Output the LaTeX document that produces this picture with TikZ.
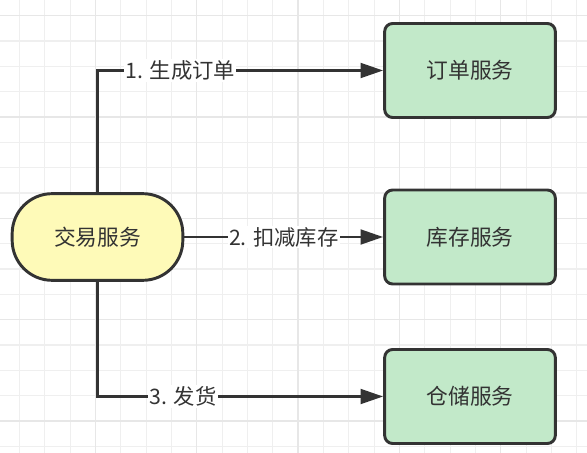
\documentclass[tikz,border=0pt]{standalone}
\usepackage{fontspec}
\setmainfont{Noto Sans CJK SC}
\usetikzlibrary{arrows.meta}
\definecolor{gridminor}{HTML}{EFEFEF}
\definecolor{gridmajor}{HTML}{E7E7E7}
\definecolor{strokec}{HTML}{333333}
\definecolor{textc}{HTML}{333333}
\definecolor{greenf}{HTML}{C2E9C9}
\definecolor{yellowf}{HTML}{FEFAB8}
\tikzset{
  svcbox/.style={draw=strokec, line width=2.2pt, fill=greenf, rounded corners=6pt,
    minimum width=128pt, minimum height=70.5pt, text=textc, font=\fontsize{16.3}{19}\selectfont, inner sep=0pt},
  tradebox/.style={draw=strokec, line width=2.2pt, fill=yellowf, rounded corners=30pt,
    minimum width=128pt, minimum height=65pt, text=textc, font=\fontsize{16.3}{19}\selectfont, inner sep=0pt},
  flow/.style={draw=strokec, line width=2.2pt, -{Triangle[length=17pt,width=11pt]}},
  lbl/.style={fill=white, text=textc, font=\fontsize{16}{19}\selectfont, inner sep=1pt}
}
\begin{document}
\begin{tikzpicture}[x=0.75pt,y=-0.75pt]
\useasboundingbox (0,0) rectangle (587,453);
\fill[white] (0,0) rectangle (587,453);
% grid
\foreach \i in {0,...,23} {
  \draw[gridminor, line width=0.9pt] ({19.5+25.33*\i},0) -- ({19.5+25.33*\i},453);
}
\foreach \i in {0,...,18} {
  \draw[gridminor, line width=0.9pt] (0,{15.7+25.33*\i}) -- (587,{15.7+25.33*\i});
}
\foreach \i in {0,...,5} {
  \draw[gridmajor, line width=1pt] ({95.5+101.33*\i-101.33},0) -- ({95.5+101.33*\i-101.33},453);
}
\foreach \i in {0,...,4} {
  \draw[gridmajor, line width=1pt] (0,{15.7+101.33*\i}) -- (587,{15.7+101.33*\i});
}
% nodes
\node[tradebox] (trade) at (97.5,237) {交易服务};
\node[svcbox] (order) at (470,70.5) {订单服务};
\node[svcbox] (stock) at (470,237) {库存服务};
\node[svcbox] (store) at (470,396.5) {仓储服务};
% connectors
\draw[flow] (trade.north) |- node[lbl, pos=0.645] {1. 生成订单} (order.west);
\draw[flow] (trade.east) -- node[lbl, pos=0.5] {2. 扣减库存} (stock.west);
\draw[flow] (trade.south) |- node[lbl, pos=0.65] {3. 发货} (store.west);
\end{tikzpicture}
\end{document}
